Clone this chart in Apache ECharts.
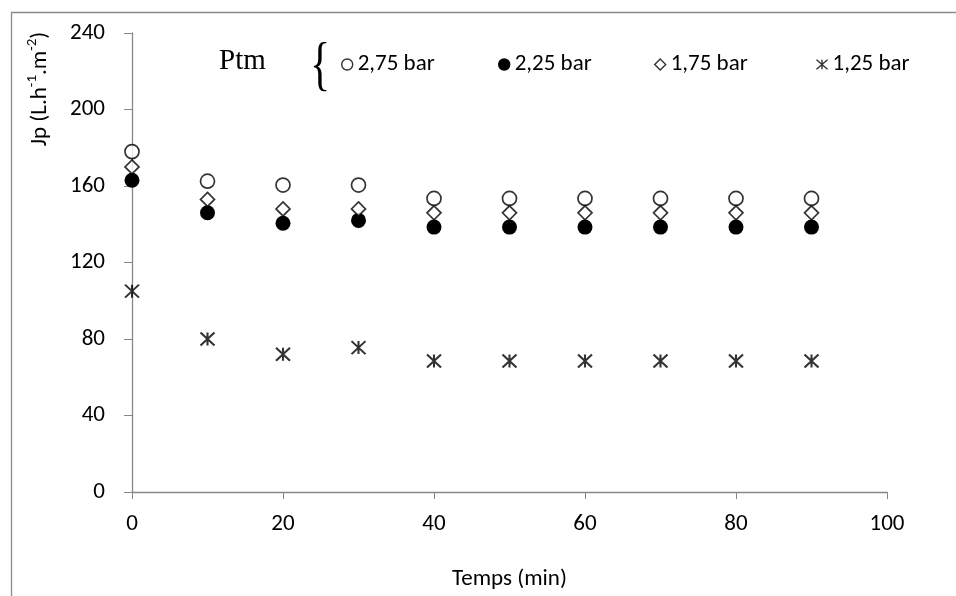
<!DOCTYPE html>
<html>
<head>
<meta charset="utf-8">
<script src="https://cdn.jsdelivr.net/npm/echarts@6/dist/echarts.min.js"></script>
<style>
  html, body { margin: 0; padding: 0; background: #fff; }
  #chart { width: 956px; height: 596px; }
</style>
</head>
<body>
<div id="chart"></div>
<script>
// Jp vs time for four transmembrane pressures
const temps = [0, 10, 20, 30, 40, 50, 60, 70, 80, 90]
const jp275 = [178, 162.5, 160.5, 160.5, 153.5, 153.5, 153.5, 153.5, 153.5, 153.5]
const jp225 = [163, 146, 140.5, 142, 138.5, 138.5, 138.5, 138.5, 138.5, 138.5]
const jp175 = [170, 153, 148, 148, 146, 146, 146, 146, 146, 146]
const jp125 = [105, 80, 72, 75.5, 68.5, 68.5, 68.5, 68.5, 68.5, 68.5]
const seriesNames = ['2,75 bar', '2,25 bar', '1,75 bar', '1,25 bar']
const legendLeft = [336, 493, 649, 809]

const font = 'Carlito, "Liberation Sans Narrow", "DejaVu Sans Condensed", sans-serif'
const axisGray = '#878787'
const starPath = 'path://M0,-6L0,6M-7,-6L7,6M-7,6L7,-6'

const pairs = ys => temps.map((t, i) => [t, ys[i]])

const chart = echarts.init(document.getElementById('chart'))

chart.setOption({
  animation: false,
  backgroundColor: '#fff',
  textStyle: { fontFamily: font },
  grid: { left: 132, right: 69, top: 33, bottom: 101 },
  legend: seriesNames.map((name, i) => ({
    left: legendLeft[i],
    top: 48,
    itemWidth: 11,
    itemHeight: 11,
    itemStyle: { borderWidth: 1.4 },
    textStyle: { fontFamily: font, fontSize: 23, color: '#000' },
    data: [name]
  })),
  xAxis: {
    type: 'value',
    min: 0,
    max: 100,
    interval: 20,
    name: 'Temps (min)',
    nameLocation: 'middle',
    nameGap: 76,
    nameTextStyle: { fontFamily: font, fontSize: 23, color: '#000' },
    axisLine: { lineStyle: { color: axisGray, width: 1.3 } },
    axisTick: { show: true, length: 7, lineStyle: { color: axisGray } },
    axisLabel: { fontSize: 23, color: '#000', margin: 21 },
    splitLine: { show: false }
  },
  yAxis: {
    type: 'value',
    min: 0,
    max: 240,
    interval: 40,
    axisLine: { show: true, lineStyle: { color: axisGray, width: 1.3 } },
    axisTick: { show: true, length: 8, lineStyle: { color: axisGray } },
    axisLabel: { fontSize: 23, color: '#000', margin: 27 },
    splitLine: { show: false }
  },
  graphic: [
    {
      type: 'rect',
      shape: { x: 11.5, y: 12.5, width: 960, height: 600 },
      style: { fill: 'none', stroke: '#8a8a8a', lineWidth: 1.3 },
      silent: true
    },
    {
      type: 'text',
      x: 38,
      y: 89,
      rotation: Math.PI / 2,
      style: {
        text: '{a|Jp (L.h}{s|-1}{a|.m}{s|-2}{a|)}',
        align: 'center',
        verticalAlign: 'middle',
        rich: {
          a: { fontFamily: font, fontSize: 23, fill: '#000', lineHeight: 27, verticalAlign: 'bottom' },
          s: { fontFamily: font, fontSize: 15, fill: '#000', lineHeight: 27, verticalAlign: 'top' }
        }
      }
    },
    {
      type: 'text',
      x: 219,
      y: 61,
      style: {
        text: 'Ptm',
        fontFamily: '"Liberation Serif", "DejaVu Serif", serif',
        fontSize: 29,
        fill: '#000',
        verticalAlign: 'middle'
      }
    },
    {
      type: 'text',
      x: 310,
      y: 67,
      scaleX: 0.7,
      style: {
        text: '{',
        fontFamily: '"Liberation Serif", "DejaVu Serif", serif',
        fontSize: 60,
        fill: '#000',
        verticalAlign: 'middle'
      }
    }
  ],
  series: [
    {
      name: seriesNames[0],
      type: 'scatter',
      symbol: 'circle',
      symbolSize: 14,
      itemStyle: { color: '#fff', borderColor: '#000', borderWidth: 1.7 },
      data: pairs(jp275)
    },
    {
      name: seriesNames[1],
      type: 'scatter',
      symbol: 'circle',
      symbolSize: 15,
      itemStyle: { color: '#000', borderColor: '#000', borderWidth: 0, opacity: 1 },
      data: pairs(jp225)
    },
    {
      name: seriesNames[2],
      type: 'scatter',
      symbol: 'diamond',
      symbolSize: [14, 14],
      itemStyle: { color: '#fff', borderColor: '#000', borderWidth: 1.7 },
      data: pairs(jp175)
    },
    {
      name: seriesNames[3],
      type: 'scatter',
      symbol: starPath,
      symbolSize: [14, 13],
      itemStyle: { color: 'none', borderColor: '#000', borderWidth: 2 },
      data: pairs(jp125)
    }
  ]
})
</script>
</body>
</html>
